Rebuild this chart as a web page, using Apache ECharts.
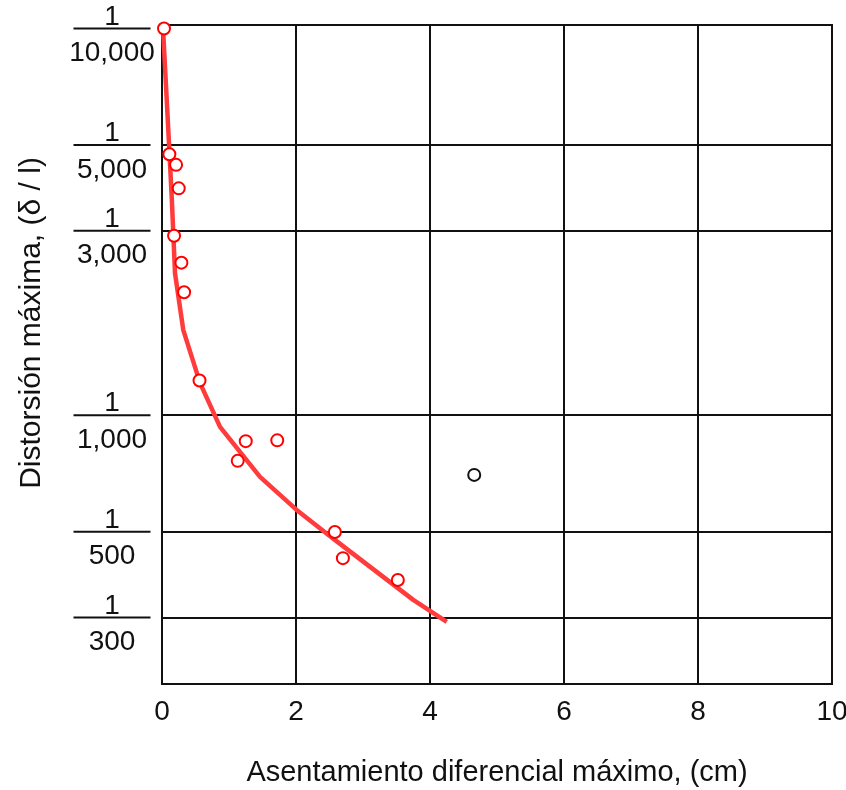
<!DOCTYPE html>
<html>
<head>
<meta charset="utf-8">
<script src="https://cdn.jsdelivr.net/npm/echarts@6/dist/echarts.min.js"></script>
<style>
html,body{margin:0;padding:0;background:#fff;}
#chart{width:846px;height:790px;}
</style>
</head>
<body>
<div id="chart"></div>
<script>
// Distortion given as the denominator N of 1/N
const tickDenominators = [10000, 5000, 3000, 1000, 500, 300];
const tickLabels = ['10,000', '5,000', '3,000', '1,000', '500', '300'];
const gridDenominators = [5000, 3000, 1000, 500, 300];
const xTicks = [0, 2, 4, 6, 8, 10];

// Observed cases (red)
const obsX = [0.03, 0.11, 0.21, 0.25, 0.18, 0.29, 0.33, 0.56, 1.25, 1.72, 1.13, 2.58, 2.70, 3.52];
const obsN = [10000, 4730, 4440, 3860, 2910, 2480, 2080, 1230, 857, 861, 762, 499, 427, 375];

// Outlier case (black)
const outX = [4.66];
const outN = [701];

// Fitted trend curve
const curveX = [0.015, 0.094, 0.145, 0.194, 0.318, 0.567, 0.866, 1.463, 2.01, 2.58, 3.75, 4.25];
const curveN = [10000, 5470, 3670, 2330, 1660, 1212, 933, 693, 569, 476, 333, 292];

const L = v => Math.log10(v);
const tickVals = tickDenominators.map(L);
const gridVals = gridDenominators.map(L);
const labelMap = {};
tickDenominators.forEach((d, i) => { labelMap[L(d).toFixed(6)] = tickLabels[i]; });

const yMin = 2.305, yMax = 4.009;
const FONT = 'Liberation Sans, Arial, sans-serif';

const chart = echarts.init(document.getElementById('chart'), null, {renderer: 'canvas'});
chart.setOption({
  animation: false,
  backgroundColor: '#fff',
  grid: {left: 162, right: 14, top: 25, bottom: 106, containLabel: false, outerBoundsMode: 'none',
         show: true, borderColor: '#111', borderWidth: 2},
  xAxis: {
    type: 'value', min: 0, max: 10, interval: 2,
    name: 'Asentamiento diferencial máximo, (cm)', nameLocation: 'middle', nameGap: 74,
    nameTextStyle: {fontFamily: FONT, fontSize: 29, color: '#111'},
    axisLine: {show: true, onZero: false, lineStyle: {color: '#111', width: 2}},
    axisTick: {show: false},
    axisLabel: {fontFamily: FONT, fontSize: 28, color: '#111', margin: 14,
                customValues: xTicks},
    splitLine: {show: true, lineStyle: {color: '#111', width: 2}}
  },
  yAxis: {
    type: 'value', min: yMin, max: yMax,
    axisLine: {show: true, onZero: false, lineStyle: {color: '#111', width: 2}},
    axisTick: {show: false, customValues: gridVals},
    axisLabel: {
      show: true, customValues: tickVals, margin: 50, align: 'center', verticalAlign: 'middle',
      formatter: v => '{s| }\n{n|1}\n{bar| }\n{d|' + (labelMap[Number(v).toFixed(6)] || '') + '}',
      rich: {
        s: {fontSize: 2, lineHeight: 27},
        n: {fontFamily: FONT, fontSize: 28, color: '#111', lineHeight: 21, align: 'center'},
        bar: {fontSize: 1, lineHeight: 2, height: 2, width: 77, backgroundColor: '#111', align: 'center'},
        d: {fontFamily: FONT, fontSize: 28, color: '#111', lineHeight: 48, align: 'center'}
      }
    },
    splitLine: {show: true, lineStyle: {color: '#111', width: 2}}
  },
  graphic: [{
    type: 'text', x: 32, y: 323, rotation: Math.PI / 2,
    style: {text: 'Distorsión máxima, (δ / l)', fontFamily: FONT, fontSize: 30, fill: '#111',
            align: 'center', verticalAlign: 'middle'}
  }],
  series: [{
    type: 'line', z: 3,
    data: curveX.map((x, i) => [x, L(curveN[i])]),
    showSymbol: false, symbol: 'none',
    lineStyle: {color: '#ff3b3b', width: 4.5}
  }, {
    type: 'scatter', z: 4,
    data: obsX.map((x, i) => [x, L(obsN[i])]),
    symbol: 'circle', symbolSize: 12,
    itemStyle: {color: '#fff', borderColor: '#ff0000', borderWidth: 2, opacity: 1}
  }, {
    type: 'scatter', z: 4,
    data: outX.map((x, i) => [x, L(outN[i])]),
    symbol: 'circle', symbolSize: 12,
    itemStyle: {color: '#fff', borderColor: '#111', borderWidth: 2, opacity: 1}
  }]
});
</script>
</body>
</html>
